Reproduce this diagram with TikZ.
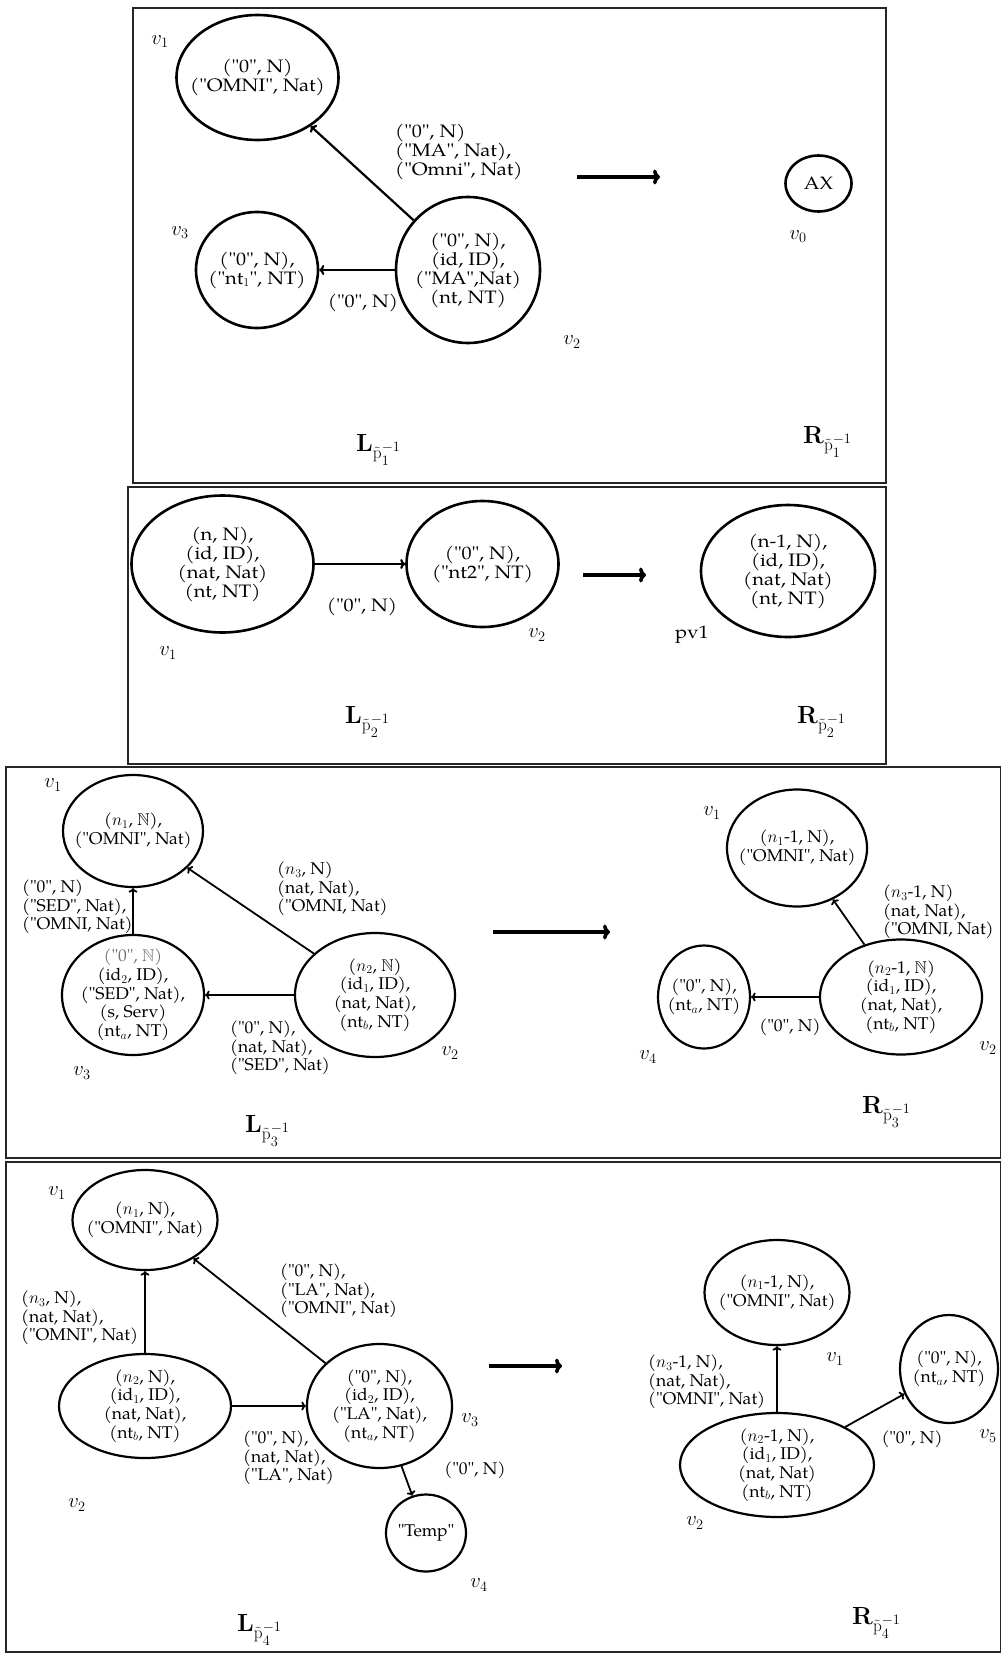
\documentclass[tikz,border=0pt]{standalone}
\usepackage{amssymb}
\usetikzlibrary{shapes.geometric,arrows.meta}
\suppressfontnotfounderror=1
\font\pagtest="[texgyrepagella-regular.otf]" at 10bp
\ifx\pagtest\nullfont
  \font\fA="[lmroman10-regular.otf]:extend=1.1" at 17bp
  \font\fB="[lmroman10-regular.otf]" at 16bp
\else
  \font\fA="[texgyrepagella-regular.otf]:extend=1.12" at 18bp
  \font\fB="[texgyrepagella-regular.otf]:extend=1.03" at 17bp
\fi
\begin{document}
\begin{tikzpicture}[x=1bp,y=-1bp,
 boxframe/.style={draw=black!85,line width=1.4bp},
 ellA/.style={draw,ellipse,line width=2.6bp,inner sep=0pt},
 ellB/.style={draw,ellipse,line width=2.2bp,inner sep=0pt},
 txtA/.style={font=\fontsize{18bp}{19bp}\selectfont\fA,align=center,inner sep=0pt},
 txtB/.style={font=\fontsize{17bp}{18.7bp}\selectfont\fB,align=center,inner sep=0pt},
 lblA/.style={txtA,align=left,anchor=west},
 lblB/.style={txtB,align=left,anchor=west},
 vA/.style={font=\fontsize{22bp}{24bp}\selectfont,inner sep=0pt},
 vB/.style={font=\fontsize{20bp}{22bp}\selectfont,inner sep=0pt},
 edgeA/.style={line width=2.2bp,-{To[length=5bp,width=10bp]}},
 edgeB/.style={line width=1.8bp,-{To[length=4.5bp,width=9bp]}},
 bigarrow/.style={line width=3.6bp,-{To[length=7bp,width=15bp]}},
 ruleLbl/.style={font=\fontsize{27bp}{30bp}\selectfont,inner sep=0pt,anchor=base west},
]
\path[use as bounding box] (0,0) rectangle (1002,1653);

% ---------- Frame 1 ----------
\draw[boxframe] (133,8) rectangle (886,483);
\node[vA] (a1l) at (160,42) {$v_1$};
\node[ellA,minimum width=162bp,minimum height=125bp] (a1) at (257.5,77.5) {};
\node[txtA] (a1t) at (a1) {("0", N)\\("OMNI", Nat)};
\node[ellA,minimum width=122bp,minimum height=116bp] (a3) at (257,270) {};
\node[txtA] (a3t) at (a3) {("0", N),\\("nt$_1$", NT)};
\node[vA] (a3l) at (180,233) {$v_3$};
\node[ellA,minimum width=144bp,minimum height=146bp] (a2) at (468,270) {};
\node[txtA] (a2t) at (a2) {("0", N),\\(id, ID),\\("MA",Nat)\\(nt, NT)};
\node[vA] (a2l) at (572,342) {$v_2$};
\draw[edgeA] (a2) -- (a1);
\draw[edgeA] (a2) -- (a3);
\node[lblA] (a21e) at (395,152) {("0", N)\\("MA", Nat),\\("Omni", Nat)};
\node[txtA] (a23e) at (363,303) {("0", N)};
\coordinate (as) at (577,177);
\coordinate (ae) at (660,177);
\draw[bigarrow] (as) -- (ae);
\node[ellA,minimum width=66bp,minimum height=56bp] (a0) at (818.5,183.5) {};
\node[txtA] (a0t) at (a0) {AX};
\node[vA] (a0l) at (798,237) {$v_0$};
\node[ruleLbl] (aL) at (356,451) {$\mathbf{L}_{\tilde{\mathrm{p}}_1^{-1}}$};
\node[ruleLbl] (aR) at (803,443) {$\mathbf{R}_{\tilde{\mathrm{p}}_1^{-1}}$};

% ---------- Frame 2 ----------
\draw[boxframe] (128,487) rectangle (886,764);
\node[ellA,minimum width=182bp,minimum height=137bp] (b1) at (222.5,564) {};
\node[txtA] (b1t) at (b1) {(n, N),\\(id, ID),\\(nat, Nat)\\(nt, NT)};
\node[vA] (b1l) at (168,653) {$v_1$};
\node[ellA,minimum width=152bp,minimum height=126bp] (b2) at (482.5,564) {};
\node[txtA] (b2t) at (b2) {("0", N),\\("nt2", NT)};
\node[vA] (b2l) at (537,635) {$v_2$};
\draw[edgeA] (b1) -- (b2);
\node[txtA] (b12e) at (362,607) {("0", N)};
\coordinate (bs) at (583,575);
\coordinate (be) at (646,575);
\draw[bigarrow] (bs) -- (be);
\node[ellA,minimum width=174bp,minimum height=132bp] (bp) at (788,571) {};
\node[txtA] (bpt) at (bp) {(n-1, N),\\(id, ID),\\(nat, Nat)\\(nt, NT)};
\node[txtA] (bpl) at (692,635) {pv1};
\node[ruleLbl] (bL) at (345,723) {$\mathbf{L}_{\tilde{\mathrm{p}}_2^{-1}}$};
\node[ruleLbl] (bR) at (797,723) {$\mathbf{R}_{\tilde{\mathrm{p}}_2^{-1}}$};

% ---------- Frame 3 ----------
\draw[boxframe] (6,767) rectangle (1000.5,1158);
\node[ellB,minimum width=140bp,minimum height=112bp] (c1) at (133,831) {};
\node[txtB] (c1t) at (c1) {($n_1$, $\mathbb{N}$),\\("OMNI", Nat)};
\node[vB] (c1l) at (53,785) {$v_1$};
\node[ellB,minimum width=142bp,minimum height=120bp] (c3) at (133,995) {};
\node[txtB] (c3t) at (c3) {{\color{black!55}("0", $\mathbb{N}$)}\\(id$_2$, ID),\\("SED", Nat),\\(s, Serv)\\(nt$_a$, NT)};
\node[vB] (c3l) at (82,1073) {$v_3$};
\node[ellB,minimum width=160bp,minimum height=124bp] (c2) at (375,995) {};
\node[txtB] (c2t) at (c2) {($n_2$, $\mathbb{N}$)\\(id$_1$, ID),\\(nat, Nat),\\(nt$_b$, NT)};
\node[vB] (c2l) at (450,1053) {$v_2$};
\draw[edgeB] (c3) -- (c1);
\draw[edgeB] (c2) -- (c1);
\draw[edgeB] (c2) -- (c3);
\node[lblB] (c31e) at (22,907) {("0", N)\\("SED", Nat),\\("OMNI, Nat)};
\node[lblB] (c21e) at (277,889) {($n_3$, N)\\(nat, Nat),\\("OMNI, Nat)};
\node[lblB] (c23e) at (230,1048) {("0", N),\\(nat, Nat),\\("SED", Nat)};
\coordinate (cs) at (493,932);
\coordinate (ce) at (610,932);
\draw[bigarrow] (cs) -- (ce);
\node[ellB,minimum width=140bp,minimum height=117bp] (d1) at (797,848) {};
\node[txtB] (d1t) at (d1) {($n_1$-1, N),\\("OMNI", Nat)};
\node[vB] (d1l) at (712,813) {$v_1$};
\node[ellB,minimum width=162bp,minimum height=115bp] (d2) at (901,997) {};
\node[txtB] (d2t) at (d2) {($n_2$-1, $\mathbb{N}$)\\(id$_1$, ID),\\(nat, Nat),\\(nt$_b$, NT)};
\node[vB] (d2l) at (988,1048) {$v_2$};
\node[ellB,minimum width=92bp,minimum height=103bp] (d4) at (704,997) {};
\node[txtB] (d4t) at (d4) {("0", N),\\(nt$_a$, NT)};
\node[vB] (d4l) at (648,1057) {$v_4$};
\draw[edgeB] (d2) -- (d1);
\draw[edgeB] (d2) -- (d4);
\node[lblB] (d21e) at (883,912) {($n_3$-1, N)\\(nat, Nat),\\("OMNI, Nat)};
\node[txtB] (d24e) at (790,1027) {("0", N)};
\node[ruleLbl] (cL) at (245,1132) {$\mathbf{L}_{\tilde{\mathrm{p}}_3^{-1}}$};
\node[ruleLbl] (cR) at (862,1113) {$\mathbf{R}_{\tilde{\mathrm{p}}_3^{-1}}$};

% ---------- Frame 4 ----------
\draw[boxframe] (6,1162) rectangle (1000.5,1652);
\node[ellB,minimum width=145bp,minimum height=100bp] (e1) at (145,1220) {};
\node[txtB] (e1t) at (e1) {($n_1$, N),\\("OMNI", Nat)};
\node[vB] (e1l) at (57,1193) {$v_1$};
\node[ellB,minimum width=172bp,minimum height=104bp] (e2) at (145,1406) {};
\node[txtB] (e2t) at (e2) {($n_2$, N),\\(id$_1$, ID),\\(nat, Nat),\\(nt$_b$, NT)};
\node[vB] (e2l) at (77,1505) {$v_2$};
\node[ellB,minimum width=145bp,minimum height=124bp] (e3) at (379.5,1406) {};
\node[txtB] (e3t) at (e3) {("0", N),\\(id$_2$, ID),\\("LA", Nat),\\(nt$_a$, NT)};
\node[vB] (e3l) at (470,1420) {$v_3$};
\node[ellB,minimum width=80bp,minimum height=77bp] (e4) at (426,1533) {};
\node[txtB] (e4t) at (e4) {"Temp"};
\node[vB] (e4l) at (479,1585) {$v_4$};
\draw[edgeB] (e2) -- (e1);
\draw[edgeB] (e3) -- (e1);
\draw[edgeB] (e2) -- (e3);
\draw[edgeB] (e3) -- (e4);
\node[lblB] (e21e) at (21,1318) {($n_3$, N),\\(nat, Nat),\\("OMNI", Nat)};
\node[lblB] (e31e) at (280,1291) {("0", N),\\("LA", Nat),\\("OMNI", Nat)};
\node[lblB] (e23e) at (243,1458) {("0", N),\\(nat, Nat),\\("LA", Nat)};
\node[txtB] (e34e) at (475,1470) {("0", N)};
\coordinate (es) at (489,1366);
\coordinate (ee) at (562,1366);
\draw[bigarrow] (es) -- (ee);
\node[ellB,minimum width=145bp,minimum height=105bp] (f1) at (777,1292.5) {};
\node[txtB] (f1t) at (f1) {($n_1$-1, N),\\("OMNI", Nat)};
\node[vB] (f1l) at (835,1359) {$v_1$};
\node[ellB,minimum width=194bp,minimum height=104bp] (f2) at (777,1465) {};
\node[txtB] (f2t) at (f2) {($n_2$-1, N),\\(id$_1$, ID),\\(nat, Nat)\\(nt$_b$, NT)};
\node[vB] (f2l) at (695,1523) {$v_2$};
\node[ellB,minimum width=98bp,minimum height=108bp] (f5) at (949,1369) {};
\node[txtB] (f5t) at (f5) {("0", N),\\(nt$_a$, NT)};
\node[vB] (f5l) at (988,1436) {$v_5$};
\draw[edgeB] (f2) -- (f1);
\draw[edgeB] (f2) -- (f5);
\node[lblB] (f21e) at (648,1382) {($n_3$-1, N),\\(nat, Nat),\\("OMNI", Nat)};
\node[txtB] (f25e) at (912,1439) {("0", N)};
\node[ruleLbl] (eL) at (237,1631) {$\mathbf{L}_{\tilde{\mathrm{p}}_4^{-1}}$};
\node[ruleLbl] (eR) at (852,1624) {$\mathbf{R}_{\tilde{\mathrm{p}}_4^{-1}}$};
\end{tikzpicture}
\end{document}
